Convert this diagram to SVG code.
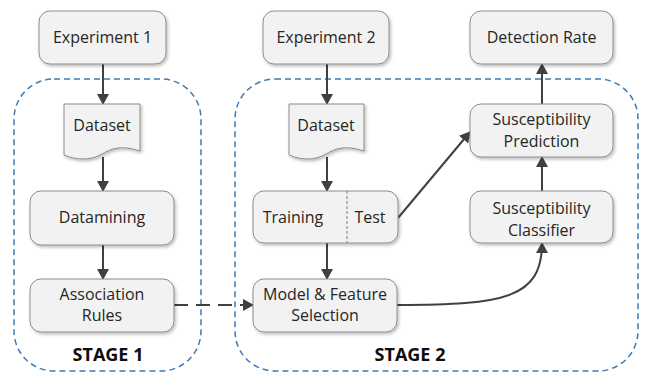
<svg xmlns="http://www.w3.org/2000/svg" width="645" height="373" viewBox="0 0 645 373">
<defs>
<style>
.box{fill:#f2f2f2;stroke:#8c8c8c;stroke-width:1;filter:url(#sh)}
.t{font-family:"Open Sans","Liberation Sans",sans-serif;font-size:16px;fill:#262626;text-anchor:middle}
.st{font-family:"Open Sans","Liberation Sans",sans-serif;font-size:18px;font-weight:bold;fill:#0d0d0d;text-anchor:middle}
.stage{fill:none;stroke:#3d7ab8;stroke-width:1.5;stroke-dasharray:6,4}
.c{fill:none;stroke:#404040;stroke-width:2}
</style>
<filter id="sh" x="-10%" y="-10%" width="125%" height="130%">
<feDropShadow dx="1.5" dy="2" stdDeviation="1.5" flood-color="#000" flood-opacity="0.25"/>
</filter>
<marker id="ah" markerWidth="12" markerHeight="12" refX="10" refY="6" orient="auto" markerUnits="userSpaceOnUse">
<path d="M0,0 L11,6 L0,12 Z" fill="#404040"/>
</marker>
</defs>
<rect width="645" height="373" fill="#fff"/>

<g id="stage1">
<rect class="stage" x="14" y="79" width="187" height="292" rx="40"/>
<text class="st" x="108" y="361">STAGE 1</text>
</g>
<g id="stage2">
<rect class="stage" x="235" y="79" width="403" height="292" rx="40"/>
<text class="st" x="410" y="361">STAGE 2</text>
</g>

<g id="connectors">
<line class="c" x1="103" y1="64" x2="103" y2="104" marker-end="url(#ah)"/>
<line class="c" x1="103" y1="157" x2="103" y2="191" marker-end="url(#ah)"/>
<line class="c" x1="103" y1="245" x2="103" y2="279" marker-end="url(#ah)"/>
<line class="c" x1="174" y1="305" x2="253" y2="305" stroke-dasharray="14,8" marker-end="url(#ah)"/>
<line class="c" x1="327" y1="64" x2="327" y2="104" marker-end="url(#ah)"/>
<line class="c" x1="327" y1="157" x2="327" y2="191" marker-end="url(#ah)"/>
<line class="c" x1="327" y1="243" x2="327" y2="279" marker-end="url(#ah)"/>
<line class="c" x1="398" y1="218" x2="470" y2="132" marker-end="url(#ah)"/>
<path class="c" d="M397,305 C505,305 542,298 542,243" marker-end="url(#ah)"/>
<line class="c" x1="542" y1="191" x2="542" y2="157" marker-end="url(#ah)"/>
<line class="c" x1="542" y1="104" x2="542" y2="64" marker-end="url(#ah)"/>
</g>

<g id="experiment1">
<rect class="box" x="39" y="11" width="127" height="53" rx="11"/>
<text class="t" x="102.5" y="43">Experiment 1</text>
</g>
<g id="dataset1">
<path class="box" d="M64,104 H140 V151 C122,145 112,148 102,154 C90,161 76,160 64,155 Z"/>
<text class="t" x="102" y="131">Dataset</text>
</g>
<g id="datamining">
<rect class="box" x="30" y="191" width="144" height="54" rx="11"/>
<text class="t" x="102" y="223">Datamining</text>
</g>
<g id="association-rules">
<rect class="box" x="30" y="279" width="144" height="53" rx="11"/>
<text class="t" x="102" y="300">Association</text>
<text class="t" x="102" y="321">Rules</text>
</g>

<g id="experiment2">
<rect class="box" x="263" y="11" width="126" height="53" rx="11"/>
<text class="t" x="326" y="43">Experiment 2</text>
</g>
<g id="dataset2">
<path class="box" d="M289,104 H364 V151 C346,145 336,148 326,154 C314,161 301,160 289,155 Z"/>
<text class="t" x="326" y="131">Dataset</text>
</g>
<g id="training-test">
<rect class="box" x="253" y="191" width="145" height="52" rx="11"/>
<line x1="347" y1="191" x2="347" y2="243" stroke="#7f7f7f" stroke-width="1" stroke-dasharray="3,2"/>
<text class="t" x="293" y="223">Training</text>
<text class="t" x="370" y="223">Test</text>
</g>
<g id="model-feature-selection">
<rect class="box" x="253" y="279" width="144" height="53" rx="11"/>
<text class="t" x="325" y="300">Model &amp; Feature</text>
<text class="t" x="325" y="321">Selection</text>
</g>

<g id="detection-rate">
<rect class="box" x="470" y="11" width="143" height="53" rx="11"/>
<text class="t" x="541.5" y="43">Detection Rate</text>
</g>
<g id="susceptibility-prediction">
<rect class="box" x="470" y="104" width="143" height="53" rx="11"/>
<text class="t" x="541.5" y="125">Susceptibility</text>
<text class="t" x="541.5" y="147">Prediction</text>
</g>
<g id="susceptibility-classifier">
<rect class="box" x="470" y="191" width="143" height="52" rx="11"/>
<text class="t" x="541.5" y="214">Susceptibility</text>
<text class="t" x="541.5" y="236">Classifier</text>
</g>
</svg>
